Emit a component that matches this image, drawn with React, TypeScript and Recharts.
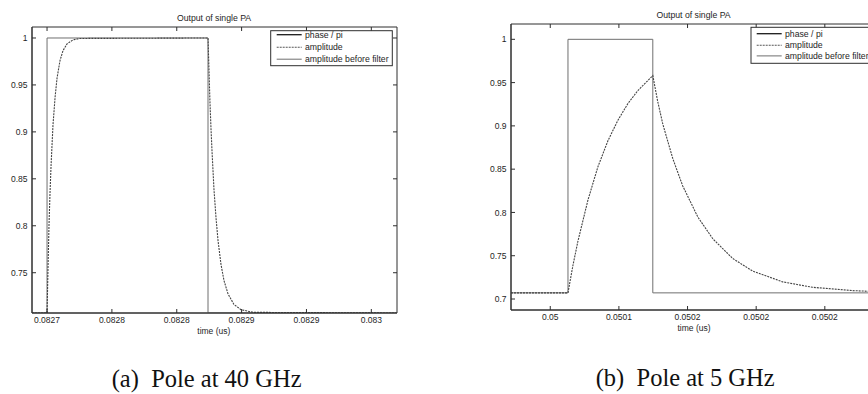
import React from 'react';
import { LineChart, Line, XAxis, YAxis, ReferenceArea } from 'recharts';

// ---------- text ----------
const seriesNames = ['phase / pi', 'amplitude', 'amplitude before filter'];
const chartTitle = 'Output of single PA';
const xAxisLabel = 'time (us)';
const captionA = '(a)  Pole at 40 GHz';
const captionB = '(b)  Pole at 5 GHz';

// ---------- panel (a): pole at 40 GHz ----------
const xDomainA = [0.0826884, 0.0829698];
const yDomainA = [0.7071, 1.0117];
const xTicksA = [0.0827, 0.08275, 0.0828, 0.08285, 0.0829, 0.08295];
const xTickLabelsA = ['0.0827', '0.0828', '0.0828', '0.0829', '0.0829', '0.083'];
const yTicksA = [0.75, 0.8, 0.85, 0.9, 0.95, 1];
const yTickLabelsA = ['0.75', '0.8', '0.85', '0.9', '0.95', '1'];

const beforeTimeA = [0.0826884, 0.0827, 0.0827, 0.0828241, 0.0828241, 0.0829698];
const beforeValA = [0.7071, 0.7071, 1.0, 1.0, 0.7071, 0.7071];

const ampTimeA = [
  0.0826884, 0.0827, 0.0827008, 0.0827015, 0.0827023, 0.0827031, 0.0827046, 0.0827062,
  0.0827077, 0.08271, 0.0827123, 0.0827154, 0.08272, 0.0827254, 0.0828241, 0.0828249,
  0.0828256, 0.0828264, 0.0828272, 0.0828287, 0.0828303, 0.0828318, 0.0828341, 0.0828364,
  0.0828395, 0.0828441, 0.0828495, 0.0828588, 0.0829698,
];
const ampValA = [
  0.7071, 0.7071, 0.7583, 0.8006, 0.8354, 0.8643, 0.9077, 0.9371,
  0.9572, 0.976, 0.9865, 0.9937, 0.998, 0.9995, 1.0, 0.9634,
  0.9315, 0.9034, 0.879, 0.8386, 0.8079, 0.7844, 0.7589, 0.7417,
  0.7275, 0.7162, 0.7107, 0.7078, 0.7071,
];

// ---------- panel (b): pole at 5 GHz ----------
const xDomainB = [0.0499714, 0.0502402];
const yDomainB = [0.6873, 1.0177];
const xTicksB = [0.05, 0.05005, 0.0501, 0.05015, 0.0502];
const xTickLabelsB = ['0.05', '0.0501', '0.0502', '0.0502', '0.0502'];
const yTicksB = [0.7, 0.75, 0.8, 0.85, 0.9, 0.95, 1];
const yTickLabelsB = ['0.7', '0.75', '0.8', '0.85', '0.9', '0.95', '1'];

const beforeTimeB = [0.0499714, 0.0500129, 0.0500129, 0.0500747, 0.0500747, 0.0502402];
const beforeValB = [0.7071, 0.7071, 1.0, 1.0, 0.7071, 0.7071];

const ampTimeB = [
  0.0499714, 0.0500129, 0.0500165, 0.0500202, 0.0500275, 0.0500347, 0.050042, 0.0500493,
  0.0500566, 0.0500638, 0.0500747, 0.0500783, 0.050082, 0.0500893, 0.0500965, 0.0501075,
  0.0501184, 0.0501329, 0.0501475, 0.0501693, 0.0501911, 0.0502203, 0.0502402,
];
const ampValB = [
  0.7071, 0.7071, 0.7387, 0.7671, 0.8146, 0.8527, 0.8828, 0.9066,
  0.9259, 0.9408, 0.9581, 0.928, 0.902, 0.862, 0.8306, 0.7947,
  0.7696, 0.7468, 0.7322, 0.7198, 0.7135, 0.7097, 0.7084,
];

// ---------- helpers ----------
const zip = (t: number[], v: number[]) => t.map((x, i) => ({ t: x, v: v[i] }));

const AXIS = '#2e2e2e';
const TXT = '#1e1e1e';
const FONT = '"Liberation Sans", Arial, Helvetica, sans-serif';
const TICK_FS = 8.5;
const TICK_LEN = 4;

function labelFor(ticks: number[], labels: string[], value: number) {
  let best = 0;
  for (let i = 1; i < ticks.length; i++) {
    if (Math.abs(ticks[i] - value) < Math.abs(ticks[best] - value)) best = i;
  }
  return labels[best];
}

function makeXTick(ticks: number[], labels: string[], plotH: number, dy: number) {
  return (props: any) => {
    const { x, y, payload } = props;
    return (
      <g>
        <line x1={x} x2={x} y1={y} y2={y - TICK_LEN} stroke={AXIS} strokeWidth={1} />
        <line x1={x} x2={x} y1={y - plotH} y2={y - plotH + TICK_LEN} stroke={AXIS} strokeWidth={1} />
        <text x={x} y={y + dy} textAnchor="middle" fontSize={TICK_FS} fontFamily={FONT} fill={TXT}>
          {labelFor(ticks, labels, payload.value)}
        </text>
      </g>
    );
  };
}

function makeYTick(ticks: number[], labels: string[], plotW: number) {
  return (props: any) => {
    const { x, y, payload } = props;
    return (
      <g>
        <line x1={x} x2={x + TICK_LEN} y1={y} y2={y} stroke={AXIS} strokeWidth={1} />
        <line x1={x + plotW} x2={x + plotW - TICK_LEN} y1={y} y2={y} stroke={AXIS} strokeWidth={1} />
        <text x={x - 4.5} y={y + 3.1} textAnchor="end" fontSize={TICK_FS} fontFamily={FONT} fill={TXT}>
          {labelFor(ticks, labels, payload.value)}
        </text>
      </g>
    );
  };
}

type PanelProps = {
  left: number;
  width: number;
  height: number;
  margin: { top: number; right: number; bottom: number; left: number };
  yAxisWidth: number;
  xDomain: number[];
  yDomain: number[];
  xTicks: number[];
  xTickLabels: string[];
  yTicks: number[];
  yTickLabels: string[];
  before: { t: number; v: number }[];
  amp: { t: number; v: number }[];
  xLabelDy: number;
};

function Panel(p: PanelProps) {
  const plotW = p.width - p.margin.left - p.margin.right - p.yAxisWidth;
  const plotH = p.height - p.margin.top - p.margin.bottom - 20;
  return (
    <div style={{ position: 'absolute', left: p.left, top: 0 }}>
      <LineChart width={p.width} height={p.height} margin={p.margin}>
        <XAxis
          type="number"
          dataKey="t"
          domain={p.xDomain}
          ticks={p.xTicks}
          allowDataOverflow
          height={20}
          tickSize={0}
          tickMargin={0}
          interval={0}
          axisLine={{ stroke: AXIS, strokeWidth: 1 }}
          tick={makeXTick(p.xTicks, p.xTickLabels, plotH, p.xLabelDy)}
        />
        <YAxis
          type="number"
          dataKey="v"
          domain={p.yDomain}
          ticks={p.yTicks}
          allowDataOverflow
          width={p.yAxisWidth}
          tickSize={0}
          tickMargin={0}
          interval={0}
          axisLine={{ stroke: AXIS, strokeWidth: 1 }}
          tick={makeYTick(p.yTicks, p.yTickLabels, plotW)}
        />
        <ReferenceArea
          x1={p.xDomain[0]}
          x2={p.xDomain[1]}
          y1={p.yDomain[0]}
          y2={p.yDomain[1]}
          fill="none"
          fillOpacity={0}
          stroke={AXIS}
          strokeWidth={1}
          ifOverflow="visible"
        />
        <Line
          data={p.before}
          dataKey="v"
          type="linear"
          stroke="#6f6f6f"
          strokeWidth={1}
          dot={false}
          activeDot={false}
          isAnimationActive={false}
          name={seriesNames[2]}
        />
        <Line
          data={p.amp}
          dataKey="v"
          type="linear"
          stroke="#444"
          strokeWidth={1.1}
          strokeDasharray="2 1"
          dot={false}
          activeDot={false}
          isAnimationActive={false}
          name={seriesNames[1]}
        />
      </LineChart>
    </div>
  );
}

function LegendBox({ x, y, w, h, lineX1, lineX2, textX, rows }: any) {
  const styles = [
    { stroke: '#1a1a1a', width: 1.3, dash: undefined },
    { stroke: '#555', width: 1.1, dash: '2 1' },
    { stroke: '#6f6f6f', width: 1, dash: undefined },
  ];
  return (
    <g>
      <rect x={x} y={y} width={w} height={h} fill="#fff" stroke={AXIS} strokeWidth={1} />
      {seriesNames.map((name, i) => (
        <g key={name}>
          <line
            x1={lineX1}
            x2={lineX2}
            y1={rows[i] - 3}
            y2={rows[i] - 3}
            stroke={styles[i].stroke}
            strokeWidth={styles[i].width}
            strokeDasharray={styles[i].dash}
          />
          <text x={textX} y={rows[i]} fontSize={8.7} fontFamily={FONT} fill={TXT}>
            {name}
          </text>
        </g>
      ))}
    </g>
  );
}

export default function App() {
  const dataBeforeA = zip(beforeTimeA, beforeValA);
  const dataAmpA = zip(ampTimeA, ampValA);
  const dataBeforeB = zip(beforeTimeB, beforeValB);
  const dataAmpB = zip(ampTimeB, ampValB);

  return (
    <div
      style={{
        position: 'fixed',
        left: 0,
        top: 0,
        width: 868,
        height: 394,
        overflow: 'hidden',
        background: '#fff',
      }}
    >
      <Panel
        left={0}
        width={434}
        height={345}
        margin={{ top: 27, right: 37, bottom: 12, left: 0 }}
        yAxisWidth={32}
        xDomain={xDomainA}
        yDomain={yDomainA}
        xTicks={xTicksA}
        xTickLabels={xTickLabelsA}
        yTicks={yTicksA}
        yTickLabels={yTickLabelsA}
        before={dataBeforeA}
        amp={dataAmpA}
        xLabelDy={9.7}
      />
      <Panel
        left={434}
        width={460}
        height={345}
        margin={{ top: 24, right: 14, bottom: 15, left: 0 }}
        yAxisWidth={77}
        xDomain={xDomainB}
        yDomain={yDomainB}
        xTicks={xTicksB}
        xTickLabels={xTickLabelsB}
        yTicks={yTicksB}
        yTickLabels={yTickLabelsB}
        before={dataBeforeB}
        amp={dataAmpB}
        xLabelDy={10}
      />
      <svg
        width={868}
        height={394}
        style={{ position: 'absolute', left: 0, top: 0, pointerEvents: 'none' }}
      >
        <text x={214} y={20.5} textAnchor="middle" fontSize={8.7} fontFamily={FONT} fill={TXT}>
          {chartTitle}
        </text>
        <text x={693.5} y={18.3} textAnchor="middle" fontSize={8.7} fontFamily={FONT} fill={TXT}>
          {chartTitle}
        </text>
        <text x={213.8} y={333.5} textAnchor="middle" fontSize={8.5} fontFamily={FONT} fill={TXT}>
          {xAxisLabel}
        </text>
        <text x={694} y={331} textAnchor="middle" fontSize={8.5} fontFamily={FONT} fill={TXT}>
          {xAxisLabel}
        </text>
        <LegendBox
          x={270.7}
          y={30.7}
          w={121.6}
          h={35}
          lineX1={276.7}
          lineX2={301.7}
          textX={305}
          rows={[37.7, 50.2, 62.2]}
        />
        <LegendBox
          x={751}
          y={27.3}
          w={130}
          h={36}
          lineX1={756.7}
          lineX2={781.7}
          textX={785}
          rows={[36.7, 48.2, 58.9]}
        />
        <text
          x={111.7}
          y={387.3}
          fontSize={24.5}
          fontFamily='"Liberation Serif", "Times New Roman", serif'
          fill="#111"
          style={{ whiteSpace: 'pre' }}
        >
          {captionA}
        </text>
        <text
          x={595.7}
          y={385.5}
          fontSize={24.5}
          fontFamily='"Liberation Serif", "Times New Roman", serif'
          fill="#111"
          style={{ whiteSpace: 'pre' }}
        >
          {captionB}
        </text>
      </svg>
    </div>
  );
}
